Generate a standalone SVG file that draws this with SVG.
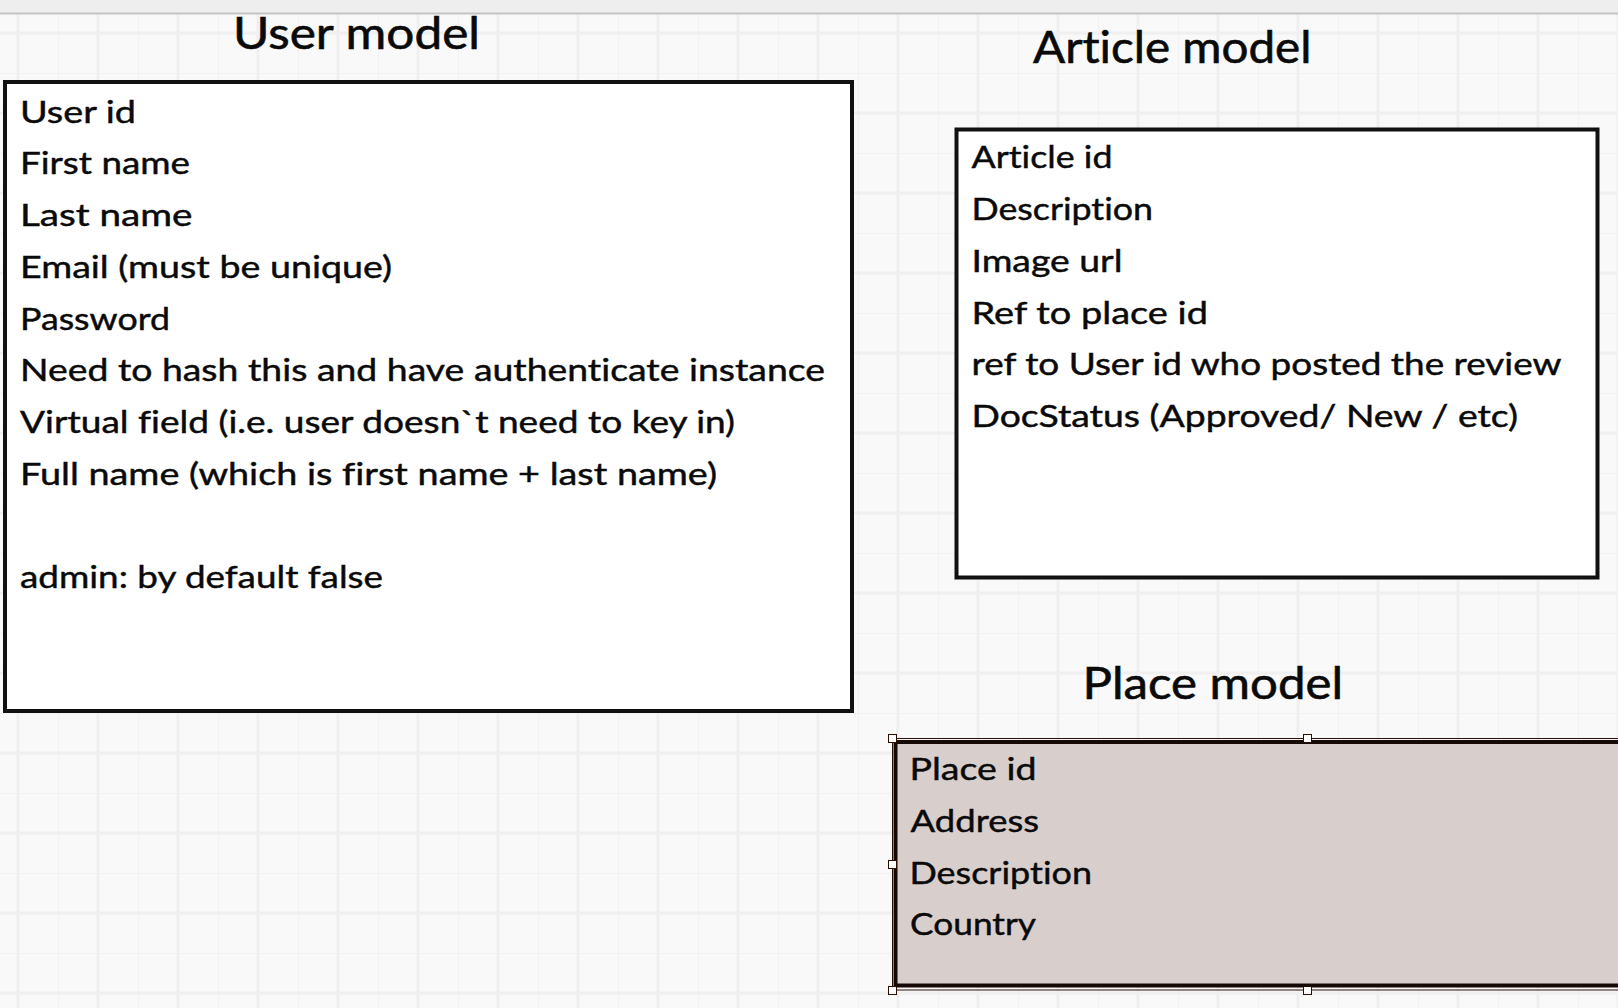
<svg xmlns="http://www.w3.org/2000/svg" width="1618" height="1008" viewBox="0 0 1618 1008">
  <style>
    .t { font-family: Lato, "Noto Sans", "Liberation Sans", sans-serif; font-size: 31px; fill: #0a0a0a; stroke: #0a0a0a; stroke-width: 0.45; font-variant-ligatures: none; }
    .h { font-family: Lato, "Noto Sans", "Liberation Sans", sans-serif; font-size: 44px; fill: #0a0a0a; stroke: #0a0a0a; stroke-width: 0.6; font-variant-ligatures: none; }
    .box { fill: #ffffff; stroke: #111111; stroke-width: 4; }
    .pbox { fill: #d8cfcd; stroke: #160905; stroke-width: 4; }
    .sel { fill: none; stroke: #2a0e04; stroke-width: 1; }
    .handle { fill: #ffffff; stroke: #2a0e04; stroke-width: 1; }
  </style>
  <defs>
    <pattern id="grid" patternUnits="userSpaceOnUse" x="-22" y="-7" width="80" height="80">
      <rect x="0" y="0" width="80" height="80" fill="#f9f9f9"/>
      <rect x="0" y="0" width="1" height="80" fill="#f2f2f2"/>
      <rect x="0" y="0" width="80" height="1" fill="#f2f2f2"/>
      <rect x="38.5" y="0" width="3" height="80" fill="#f0f0f0"/>
      <rect x="0" y="38.5" width="80" height="3" fill="#f0f0f0"/>
    </pattern>
  </defs>

  <rect x="0" y="0" width="1618" height="1008" fill="url(#grid)"/>
  <rect x="0" y="0" width="1618" height="13" fill="#eeeeee"/>
  <line x1="0" y1="13.5" x2="1618" y2="13.5" stroke="#c4c4c4" stroke-width="2"/>

  <g id="node-user">
    <text class="h" x="233" y="48.5" textLength="247" lengthAdjust="spacingAndGlyphs">User model</text>
    <rect class="box" x="5" y="82" width="847" height="629"/>
    <text class="t" x="20" y="122.5" textLength="116" lengthAdjust="spacingAndGlyphs">User id</text>
    <text class="t" x="20" y="174.3" textLength="170" lengthAdjust="spacingAndGlyphs">First name</text>
    <text class="t" x="20" y="226" textLength="172.5" lengthAdjust="spacingAndGlyphs">Last name</text>
    <text class="t" x="20" y="277.8" textLength="372" lengthAdjust="spacingAndGlyphs">Email (must be unique)</text>
    <text class="t" x="20" y="329.5" textLength="150" lengthAdjust="spacingAndGlyphs">Password</text>
    <text class="t" x="20" y="381.3" textLength="805" lengthAdjust="spacingAndGlyphs">Need to hash this and have authenticate instance</text>
    <text class="t" x="20" y="433" textLength="715" lengthAdjust="spacingAndGlyphs">Virtual field (i.e. user doesn`t need to key in)</text>
    <text class="t" x="20" y="484.8" textLength="697" lengthAdjust="spacingAndGlyphs">Full name (which is first name + last name)</text>
    <text class="t" x="20" y="588.3" textLength="363" lengthAdjust="spacingAndGlyphs">admin: by default false</text>
  </g>

  <g id="node-article">
    <text class="h" x="1033" y="62.5" textLength="278.5" lengthAdjust="spacingAndGlyphs">Article model</text>
    <rect class="box" x="956.5" y="129.5" width="641" height="448"/>
    <text class="t" x="971.5" y="168.3" textLength="141" lengthAdjust="spacingAndGlyphs">Article id</text>
    <text class="t" x="971.5" y="220" textLength="181.5" lengthAdjust="spacingAndGlyphs">Description</text>
    <text class="t" x="971.5" y="271.8" textLength="151" lengthAdjust="spacingAndGlyphs">Image url</text>
    <text class="t" x="971.5" y="323.5" textLength="236.5" lengthAdjust="spacingAndGlyphs">Ref to place id</text>
    <text class="t" x="971.5" y="375.3" textLength="590" lengthAdjust="spacingAndGlyphs">ref to User id who posted the review</text>
    <text class="t" x="971.5" y="427" textLength="546.5" lengthAdjust="spacingAndGlyphs">DocStatus (Approved/ New / etc)</text>
  </g>

  <g id="node-place">
    <text class="h" x="1082.5" y="699.3" textLength="260.5" lengthAdjust="spacingAndGlyphs">Place model</text>
    <rect class="pbox" x="895.5" y="742" width="900" height="243.5"/>
    <rect class="sel" x="892.5" y="738.5" width="830" height="251.5"/>
    <text class="t" x="909.5" y="780" textLength="127" lengthAdjust="spacingAndGlyphs">Place id</text>
    <text class="t" x="910.5" y="831.7" textLength="128.5" lengthAdjust="spacingAndGlyphs">Address</text>
    <text class="t" x="909.5" y="883.5" textLength="182.5" lengthAdjust="spacingAndGlyphs">Description</text>
    <text class="t" x="910" y="935.3" textLength="126" lengthAdjust="spacingAndGlyphs">Country</text>
    <rect class="handle" x="888.5" y="734.5" width="8" height="8"/>
    <rect class="handle" x="1303.5" y="734.5" width="8" height="8"/>
    <rect class="handle" x="888.5" y="860.5" width="8" height="8"/>
    <rect class="handle" x="888.5" y="986.5" width="8" height="8"/>
    <rect class="handle" x="1303.5" y="986.5" width="8" height="8"/>
  </g>

  <g id="connectors"></g>
</svg>
